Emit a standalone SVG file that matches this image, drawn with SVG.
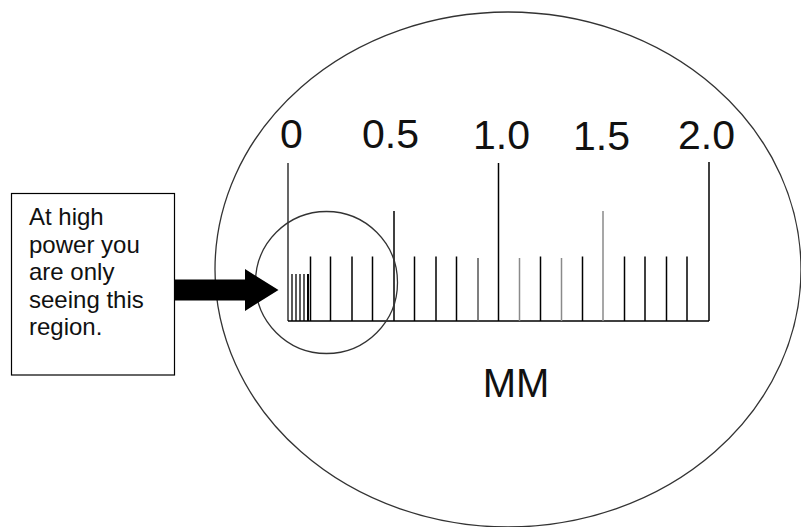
<svg xmlns="http://www.w3.org/2000/svg" width="801" height="527" viewBox="0 0 801 527">
<style>
.lbl{font-family:"Liberation Sans",Arial,sans-serif;fill:#111;text-anchor:middle}
.num{font-size:41px}
.box{font-family:"Liberation Sans",Arial,sans-serif;font-size:24px;fill:#111}
.t{stroke:#000;stroke-width:1.5}
.g{stroke:#8a8a8a;stroke-width:1.5}
.ring{fill:none;stroke:#333;stroke-width:1.3}
</style>
<rect width="801" height="527" fill="#fff"/>
<g id="field">
<ellipse class="ring" cx="508" cy="269.5" rx="293" ry="257.5"/>
</g>
<g id="scale">
<line class="t" x1="288" y1="321" x2="709" y2="321"/>
<line class="t" x1="288" y1="163" x2="288" y2="321" style="stroke-width:1.2"/>
<line class="t" x1="498.5" y1="163" x2="498.5" y2="321"/>
<line class="t" x1="709" y1="162" x2="709" y2="321"/>
<line class="t" x1="394" y1="211" x2="394" y2="321"/>
<line class="g" x1="603" y1="211" x2="603" y2="321"/>
<g class="t">
<line x1="310.5" y1="256.5" x2="310.5" y2="321"/>
<line x1="330.5" y1="256.5" x2="330.5" y2="321"/>
<line x1="352" y1="256.5" x2="352" y2="321"/>
<line x1="372.5" y1="256.5" x2="372.5" y2="321"/>
<line x1="414.5" y1="256.5" x2="414.5" y2="321"/>
<line x1="436" y1="256.5" x2="436" y2="321"/>
<line x1="456.5" y1="256.5" x2="456.5" y2="321"/>
<line x1="540.5" y1="256.5" x2="540.5" y2="321"/>
<line x1="582.5" y1="256.5" x2="582.5" y2="321"/>
<line x1="624.5" y1="256.5" x2="624.5" y2="321"/>
<line x1="645" y1="256.5" x2="645" y2="321"/>
<line x1="666.5" y1="256.5" x2="666.5" y2="321"/>
<line x1="687" y1="256.5" x2="687" y2="321"/>
</g>
<g class="g">
<line x1="478" y1="258" x2="478" y2="321" style="stroke:#555"/>
<line x1="519.5" y1="258" x2="519.5" y2="321"/>
<line x1="561.5" y1="258" x2="561.5" y2="321"/>
</g>
<g class="t" style="stroke-width:1.3">
<line x1="292" y1="274" x2="292" y2="321"/>
<line x1="296" y1="274" x2="296" y2="321"/>
<line x1="300" y1="274" x2="300" y2="321"/>
<line x1="304" y1="274" x2="304" y2="321"/>
<line x1="308" y1="274" x2="308" y2="321" style="stroke-width:2"/>
</g>
<text class="lbl num" x="291.5" y="148">0</text>
<text class="lbl num" x="390.5" y="148">0.5</text>
<text class="lbl num" x="501.5" y="149">1.0</text>
<text class="lbl num" x="601.5" y="150">1.5</text>
<text class="lbl num" x="706.5" y="149">2.0</text>
<text class="lbl" x="516" y="397" style="font-size:40px">MM</text>
</g>
<g id="highpower">
<circle class="ring" cx="326.5" cy="282.5" r="71"/>
</g>
<g id="note">
<rect x="11.5" y="193.5" width="163" height="181.5" fill="#fff" stroke="#000" stroke-width="1.2"/>
<text class="box" x="29" y="225">At high</text>
<text class="box" x="29" y="252.5">power you</text>
<text class="box" x="29" y="280">are only</text>
<text class="box" x="29" y="307.5">seeing this</text>
<text class="box" x="29" y="335">region.</text>
</g>
<g id="connectors">
<polygon points="174.5,279.5 245,279.5 245,269 278.5,290 245,311 245,300.5 174.5,300.5" fill="#000"/>
</g>
</svg>
